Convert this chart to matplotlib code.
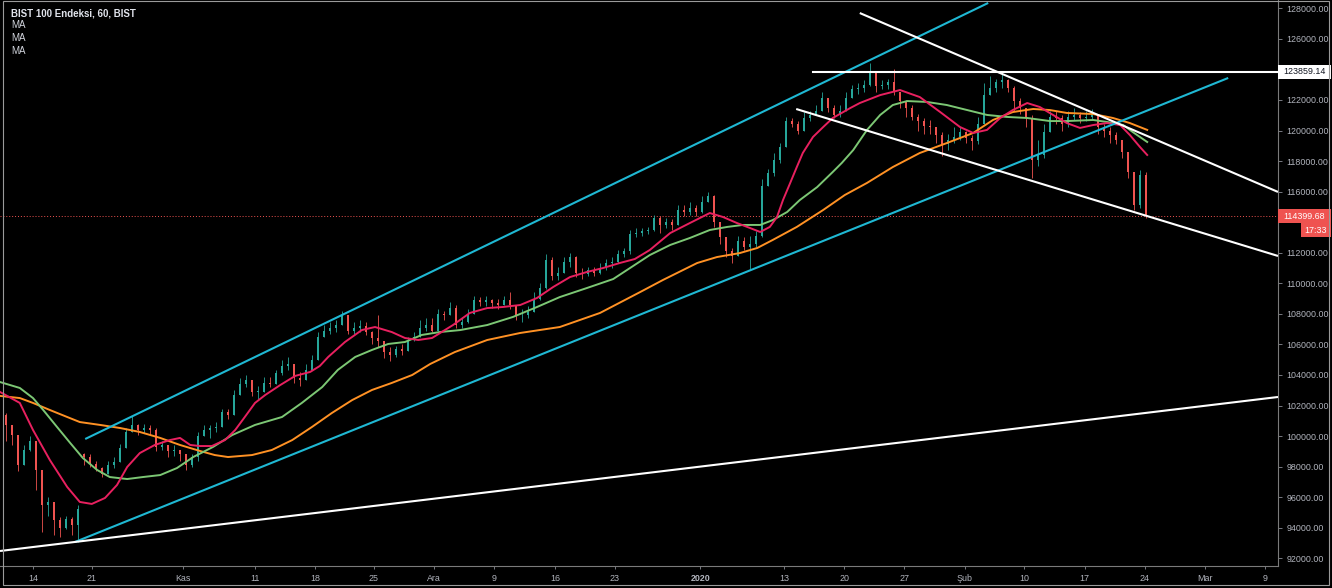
import numpy as np
import matplotlib.pyplot as plt
from matplotlib.patches import Rectangle

# BIST 100 hourly chart (prices in thousands)
first_open = 101.4
closes = [
    100.7, 100.1, 98.1, 99.1, 99.7, 97.8, 95.5, 95.7, 94.5, 94.0,
    94.6, 94.2, 95.2, 98.6, 98.2, 97.9, 97.5, 98.1, 98.3, 99.2,
    100.3, 100.7, 100.4, 100.5, 100.4, 99.3, 99.4, 99.0, 99.1, 98.8,
    98.1, 98.6, 100.0, 100.4, 100.5, 100.6, 101.6, 101.4, 102.7, 103.4,
    103.7, 102.9, 102.9, 103.5, 103.4, 104.1, 104.6, 104.7, 103.8, 103.7,
    104.3, 105.0, 106.5, 106.9, 107.1, 107.3, 107.9, 106.9, 107.1, 107.2,
    106.8, 106.4, 106.2, 105.5, 105.3, 105.7, 105.6, 106.3, 106.5, 107.1,
    107.3, 106.9, 108.0, 107.9, 108.4, 107.3, 107.5, 108.0, 108.9, 108.8,
    108.9, 108.7, 108.6, 108.9, 108.6, 107.9, 107.9, 108.1, 109.0, 109.7,
    111.5, 110.5, 110.7, 111.4, 111.7, 110.7, 110.6, 110.9, 110.7, 111.0,
    111.3, 111.4, 111.9, 112.1, 113.2, 113.3, 113.4, 113.5, 114.3, 113.8,
    114.0, 113.8, 114.8, 114.7, 114.9, 114.7, 115.3, 115.7, 114.0, 113.0,
    112.1, 111.8, 112.8, 112.4, 112.6, 113.1, 116.4, 117.2, 118.1, 118.9,
    120.6, 120.4, 120.0, 120.8, 121.0, 121.3, 122.1, 121.5, 121.0, 121.3,
    122.1, 122.7, 122.8, 123.0, 123.8, 122.9, 123.0, 123.2, 122.5, 121.9,
    121.5, 120.9, 120.6, 120.3, 120.2, 119.7, 119.1, 119.4, 119.6, 119.9,
    119.5, 119.3, 120.4, 122.3, 122.8, 123.2, 123.3, 122.8, 121.9, 121.5,
    120.8, 118.1, 118.4, 119.9, 120.9, 120.8, 120.4, 120.9, 121.0, 120.8,
    120.9, 121.1, 120.2, 120.0, 119.7, 119.4, 118.6, 117.3, 115.1, 117.1,
    114.39968,
]
highs = [
    101.5, 100.7, 99.7, 99.4, 100.0, 99.7, 97.8, 96.0, 95.5, 94.7,
    94.8, 94.7, 95.5, 98.9, 98.8, 98.4, 98.0, 98.4, 98.6, 99.5,
    100.5, 101.3, 100.8, 100.8, 100.7, 100.5, 99.7, 99.4, 99.4, 99.1,
    98.8, 98.8, 100.3, 100.7, 100.7, 100.9, 101.8, 101.8, 103.0, 103.8,
    104.0, 103.7, 103.3, 103.9, 103.9, 104.3, 105.0, 105.2, 104.7, 104.2,
    104.7, 105.3, 106.8, 107.3, 107.5, 107.6, 108.2, 107.9, 107.5, 107.6,
    107.5, 106.9, 107.9, 106.1, 105.8, 105.9, 106.0, 106.5, 106.8, 107.6,
    107.7, 107.7, 108.3, 108.2, 108.8, 108.6, 107.8, 108.3, 109.2, 109.1,
    109.2, 109.0, 109.0, 109.2, 109.4, 108.6, 108.3, 108.5, 109.4, 110.0,
    111.9, 111.7, 111.1, 111.7, 112.0, 111.8, 111.0, 111.1, 111.1, 111.3,
    111.6, 111.7, 112.2, 112.3, 113.5, 113.6, 113.6, 113.7, 114.5, 114.4,
    114.3, 114.2, 115.1, 115.1, 115.3, 115.1, 115.7, 116.0, 115.8, 113.8,
    113.0, 112.3, 113.1, 113.0, 113.1, 113.4, 116.8, 117.5, 118.5, 119.2,
    120.9, 120.8, 120.6, 121.2, 121.3, 121.7, 122.5, 122.1, 121.7, 121.7,
    122.5, 123.0, 123.1, 123.3, 124.4, 123.7, 123.3, 123.4, 124.0, 122.5,
    122.0, 121.7, 121.1, 120.8, 120.7, 120.2, 119.9, 119.8, 120.2, 120.2,
    120.0, 119.7, 120.9, 123.1, 123.6, 123.4, 123.8, 123.4, 122.9, 122.1,
    121.5, 121.0, 119.4, 120.4, 121.3, 121.3, 121.0, 121.3, 121.5, 121.2,
    121.3, 121.4, 121.0, 120.4, 120.2, 119.9, 119.4, 118.4, 116.8, 117.4,
    117.3,
]
lows = [
    99.7, 99.4, 97.7, 98.4, 99.0, 96.5, 93.7, 94.8, 93.5, 93.4,
    93.9, 93.5, 93.1, 98.1, 98.0, 97.7, 97.3, 97.8, 97.9, 98.6,
    99.4, 100.3, 100.1, 100.2, 100.1, 99.0, 99.1, 98.6, 98.7, 98.4,
    97.8, 98.0, 98.4, 100.0, 99.9, 100.3, 101.1, 101.1, 101.7, 102.9,
    103.2, 102.6, 102.4, 102.9, 103.2, 103.5, 104.0, 104.3, 103.5, 103.3,
    103.8, 104.5, 105.1, 106.6, 106.7, 106.8, 107.3, 106.7, 106.7, 106.8,
    106.6, 106.0, 105.8, 105.1, 104.9, 105.2, 105.3, 105.8, 106.2, 106.7,
    106.9, 106.8, 107.5, 107.6, 107.9, 107.1, 107.1, 107.4, 108.1, 108.5,
    108.5, 108.4, 108.3, 108.6, 108.3, 107.6, 107.5, 107.7, 108.1, 108.9,
    109.6, 110.2, 110.2, 110.9, 111.1, 110.4, 110.3, 110.5, 110.5, 110.6,
    110.9, 111.0, 111.3, 111.7, 111.9, 113.0, 113.1, 113.2, 113.4, 113.3,
    113.6, 113.5, 113.8, 114.4, 114.5, 114.4, 114.6, 115.3, 113.7, 112.6,
    111.7, 111.3, 111.8, 112.2, 110.9, 112.4, 113.0, 116.4, 117.0, 117.9,
    118.9, 120.2, 119.8, 120.0, 120.6, 121.0, 121.3, 121.2, 120.8, 120.9,
    121.5, 122.1, 122.4, 122.5, 122.9, 122.5, 122.7, 122.7, 122.3, 121.5,
    120.9, 120.7, 120.0, 119.8, 119.8, 119.2, 118.3, 118.7, 119.2, 119.4,
    119.2, 118.7, 119.1, 120.4, 122.3, 122.5, 122.8, 122.5, 121.3, 121.1,
    120.2, 116.9, 117.7, 118.2, 119.9, 120.4, 120.0, 120.2, 120.7, 120.5,
    120.6, 120.7, 119.8, 119.6, 119.2, 119.1, 118.2, 116.9, 114.8, 114.9,
    114.3,
]
gap_opens = {13: 98.8}

# moving averages: (bar position, value in thousands)
ma_fast_x = [-1.0, 2.3, 4.5, 7.3, 10.2, 12.3, 14.3, 16.5, 18.5, 20.2, 22.3, 24.8, 27.3, 29.0,
             30.7, 32.3, 34.3, 36.5, 38.2, 39.8, 41.5, 43.2, 45.7, 48.2, 50.7, 52.3, 53.7, 56.5,
             59.3, 61.5, 64.3, 66.5, 68.7, 71.0, 74.5, 77.3, 80.2, 82.8, 85.7, 88.5, 91.2, 94.0,
             96.8, 99.5, 102.3, 104.8, 107.3, 110.7, 114.0, 117.3, 119.5, 121.8, 124.0, 125.7,
             127.3, 128.5, 129.5, 130.7, 131.8, 132.8, 134.5, 136.2, 137.8, 140.7, 142.3, 145.7,
             149.0, 152.3, 155.7, 159.0, 161.2, 163.5, 165.7, 167.8, 170.2, 172.3, 174.5, 176.8,
             179.0, 181.2, 183.5, 185.7, 187.3, 189.0, 190.2]
ma_fast = [102.89, 102.17, 100.40, 98.44, 96.67, 95.69, 95.56, 95.95, 96.80, 97.98, 98.89, 99.42,
           99.74, 99.88, 99.42, 99.35, 99.35, 99.74, 100.40, 101.25, 102.17, 102.69, 103.34,
           103.94, 104.20, 104.59, 105.18, 106.16, 106.94, 107.14, 106.81, 106.42, 106.29, 106.42,
           107.27, 108.06, 108.38, 108.45, 108.58, 109.04, 109.76, 110.41, 110.74, 111.00, 111.33,
           111.59, 112.18, 113.29, 113.95, 114.60, 114.34, 113.95, 113.62, 113.36, 113.69, 114.34,
           115.45, 116.57, 117.61, 118.53, 119.58, 120.23, 120.82, 121.47, 121.80, 122.32, 122.65,
           122.19, 121.21, 120.23, 119.84, 120.04, 120.82, 121.34, 121.80, 121.54, 121.02, 120.49,
           120.17, 120.36, 120.49, 120.36, 119.71, 118.92, 118.40]
ma_mid_x = [-1.0, 2.3, 4.5, 6.2, 8.5, 10.7, 12.8, 15.2, 17.3, 20.2, 22.8, 25.7, 28.5, 31.2, 34.5,
            37.7, 41.5, 46.0, 49.3, 52.7, 55.3, 58.2, 61.0, 63.7, 66.5, 69.3, 72.3, 75.7, 80.2,
            84.5, 88.5, 92.3, 96.8, 101.2, 104.0, 107.3, 110.7, 114.0, 117.3, 120.2, 122.8, 125.7,
            127.8, 130.2, 132.3, 135.2, 137.8, 139.3, 141.2, 143.5, 145.7, 147.8, 150.2, 153.5,
            156.8, 160.2, 163.5, 166.8, 170.2, 174.0, 176.8, 181.2, 183.5, 186.2, 187.8, 190.2]
ma_mid = [103.54, 103.15, 102.49, 101.71, 100.60, 99.55, 98.57, 97.78, 97.32, 97.19, 97.32, 97.45,
          97.91, 98.63, 99.29, 100.07, 100.73, 101.25, 102.17, 103.21, 104.33, 105.18, 105.64,
          106.03, 106.16, 106.62, 106.81, 106.94, 107.27, 107.80, 108.45, 109.10, 109.69, 110.28,
          111.00, 111.85, 112.51, 112.97, 113.49, 113.69, 113.82, 113.82, 114.14, 114.67, 115.45,
          116.30, 117.29, 117.88, 118.72, 120.04, 121.02, 121.67, 121.93, 121.87, 121.67, 121.34,
          121.02, 120.89, 120.82, 120.62, 120.62, 120.69, 120.56, 120.36, 119.90, 119.25]
ma_slow_x = [-1.0, 2.3, 4.5, 7.3, 10.2, 12.3, 15.7, 19.0, 22.3, 25.7, 29.0, 32.3, 34.8, 37.0,
             41.0, 44.3, 47.7, 51.0, 54.3, 57.7, 61.0, 64.3, 67.7, 70.7, 74.8, 80.2, 85.7, 92.3,
             99.0, 105.7, 109.5, 115.2, 118.5, 122.3, 125.2, 127.8, 131.8, 136.2, 139.8, 143.5,
             147.8, 152.3, 156.8, 161.2, 164.5, 167.8, 171.2, 174.0, 176.8, 181.2, 184.5, 187.3,
             190.2]
ma_slow = [102.63, 102.49, 102.17, 101.71, 101.25, 100.92, 100.73, 100.53, 100.27, 99.88, 99.42,
           99.03, 98.76, 98.63, 98.76, 99.09, 99.74, 100.60, 101.51, 102.36, 103.02, 103.48,
           104.00, 104.72, 105.50, 106.29, 106.75, 107.14, 108.06, 109.43, 110.22, 111.33, 111.72,
           111.98, 112.31, 112.84, 113.69, 114.80, 115.78, 116.57, 117.61, 118.53, 119.18, 119.84,
           120.69, 121.21, 121.41, 121.34, 121.15, 121.08, 120.82, 120.49, 120.04]

# drawn trend lines: (bar start, bar end), (price start, price end)
channel_up = ([13.2, 163.7], [99810, 128350])
channel_low = ([11.5, 203.7], [93070, 123440])
support_long = ([-1.0, 212.0], [92480, 102560])
wedge_upper = ([142.3, 212.0], [127690, 115980])
wedge_lower = ([131.7, 212.0], [121410, 111790])
resistance = 123859.14
resistance_start = 134.5
last_price = 114399.68
countdown = "17:33"

tick_pos = [4.5, 14.3, 29.5, 41.5, 51.5, 61.3, 71.3, 81.3, 91.5, 101.5,
            115.7, 129.7, 139.7, 149.7, 159.8, 169.7, 179.8, 189.8, 199.8, 209.8]
tick_labels = ["14", "21", "Kas", "11", "18", "25", "Ara", "9", "16", "23",
               "2020", "13", "20", "27", "Şub", "10", "17", "24", "Mar", "9"]
price_ticks = list(range(92000, 128001, 2000))
hidden_price_labels = [124000, 114000]  # covered by the price boxes in the screenshot

UP = "#26a69a"
DOWN = "#ef5350"
GRID_TXT = "#b2b5be"

plt.rcParams['font.family'] = ['Liberation Sans', 'DejaVu Sans']

fig = plt.figure(figsize=(13.32, 5.88), dpi=100, facecolor="black")
W, H = 1332, 588
ax = fig.add_axes([0, 22 / H, 1278 / W, 566 / H])
ax.set_facecolor("black")

c = np.array(closes) * 1000
o = np.concatenate([[first_open], closes[:-1]]) * 1000
for k, v in gap_opens.items():
    o[k] = v * 1000
h = np.maximum(np.array(highs) * 1000, np.maximum(o, c))
l = np.minimum(np.array(lows) * 1000, np.minimum(o, c))
x = np.arange(len(c))
cols = np.where(c >= o, UP, DOWN)

ax.vlines(x, l, h, colors=cols, lw=0.6, zorder=2)
body = np.maximum(np.abs(c - o), 40)
ax.bar(x, body, bottom=np.minimum(o, c), width=0.38, color=cols, lw=0, zorder=3)

ax.plot(ma_slow_x, np.array(ma_slow) * 1000, color="#ff9124", lw=1.4, zorder=4)
ax.plot(ma_mid_x, np.array(ma_mid) * 1000, color="#7cc774", lw=1.4, zorder=4)
ax.plot(ma_fast_x, np.array(ma_fast) * 1000, color="#e8205f", lw=1.4, zorder=4)

for xs, ys in [channel_up, channel_low]:
    ax.plot(xs, ys, color="#1fb8d3", lw=1.5, zorder=5, solid_capstyle="butt")
for xs, ys in [support_long, wedge_upper, wedge_lower]:
    ax.plot(xs, ys, color="white", lw=1.5, zorder=5, solid_capstyle="butt")
ax.plot([resistance_start, 212], [resistance, resistance], color="white", lw=1.5, zorder=5)
ax.axhline(last_price, color=DOWN, lw=0.7, ls=(0, (1, 2)), zorder=1)

ax.set_xlim(-1, 212)
ax.set_ylim(91498, 128543)

ax.set_xticks(tick_pos)
ax.set_xticklabels(tick_labels)
for t in ax.get_xticklabels():
    if t.get_text() == "2020":
        t.set_fontweight("bold")
ax.yaxis.tick_right()
ax.set_yticks(price_ticks)
ax.set_yticklabels(["" if p in hidden_price_labels else f"{p:.2f}" for p in price_ticks])
ax.tick_params(axis="x", colors="#8a8d96", labelcolor=GRID_TXT, labelsize=6.4, length=2.5, pad=3, width=0.6)
ax.tick_params(axis="y", colors="#8a8d96", labelcolor=GRID_TXT, labelsize=6.4, length=3, pad=3, width=0.6)
for s in ["top", "left"]:
    ax.spines[s].set_visible(False)
for s in ["bottom", "right"]:
    ax.spines[s].set_color("#7a7a7a")
    ax.spines[s].set_linewidth(0.8)

# price labels on the right scale
ytr = ax.get_yaxis_transform()
px = 65.45  # price per pixel
box_w = 53 / 1278
ax.add_patch(Rectangle((1.0, resistance - 7 * px), box_w, 14 * px, transform=ytr,
                       fc="white", ec="none", clip_on=False, zorder=6))
ax.text(1.0 + box_w / 2, resistance, f"{resistance:.2f}", transform=ytr, ha="center", va="center",
        fontsize=6.4, color="#131722", clip_on=False, zorder=7)
ax.add_patch(Rectangle((1.0, last_price - 7 * px), box_w, 14 * px, transform=ytr,
                       fc=DOWN, ec="none", clip_on=False, zorder=6))
ax.text(1.0 + box_w / 2, last_price, f"{last_price:.2f}", transform=ytr, ha="center", va="center",
        fontsize=6.4, color="white", clip_on=False, zorder=7)
ax.add_patch(Rectangle((1.0 + 23 / 1278, last_price - 21 * px), 30 / 1278, 14 * px, transform=ytr,
                       fc=DOWN, ec="none", clip_on=False, zorder=6))
ax.text(1.0 + 38 / 1278, last_price - 14 * px, countdown, transform=ytr, ha="center", va="center",
        fontsize=6.4, color="white", clip_on=False, zorder=7)

# legend text top-left
fig.text(11 / W, 1 - 13 / H, "BIST 100 Endeksi, 60, BIST", fontsize=7, fontweight="bold",
         color="#e0e3eb", va="center", ha="left")
for k in range(3):
    fig.text(11 / W, 1 - (25.5 + 12.7 * k) / H, "MA", fontsize=7, color="#d1d4dc",
             va="center", ha="left")

fig.patches.append(Rectangle((3 / W, 3 / H), 1326 / W, 584 / H, transform=fig.transFigure,
                             fill=False, ec="#9a9a9a", lw=0.8))

fig.savefig("out.png", dpi=100, facecolor="black")
